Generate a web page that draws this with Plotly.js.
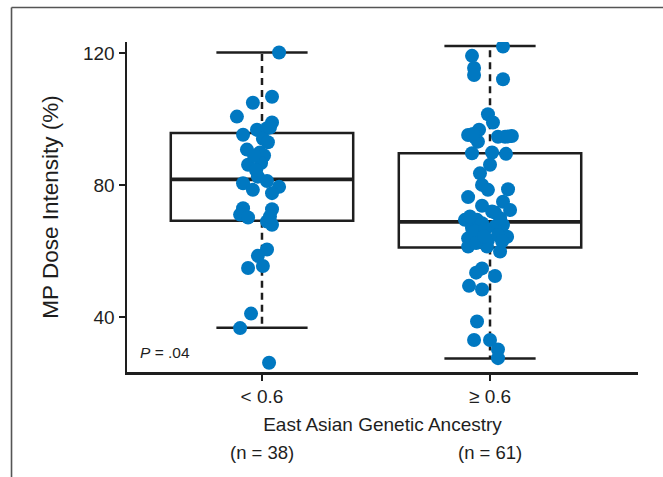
<!DOCTYPE html>
<html>
<head>
<meta charset="utf-8">
<script src="https://cdn.plot.ly/plotly-3.0.1.min.js"></script>
<style>
  html, body { margin: 0; padding: 0; background: #fff; }
  #chart { width: 663px; height: 477px; }
</style>
</head>
<body>
<div id="chart"></div>
<script>
// ---- Data ----
const categories = ["< 0.6", "\u2265 0.6"];
const nLabels = ["(n = 38)", "(n = 61)"];
const pLabel = "<i>P</i> = .04";

// Box statistics per group
const q1Vals = [69.2, 61.1];
const medianVals = [81.8, 68.9];
const q3Vals = [95.8, 89.7];
const lowerWhisker = [36.8, 27.5];
const upperWhisker = [120.2, 122.2];

// Group "< 0.6" (n = 38): MP dose intensity and horizontal jitter (category units)
const lowVals = [120.2, 106.8, 105.0, 100.8, 99.0, 96.8, 97.3, 95.3, 94.1, 90.8,
                 89.9, 89.0, 86.2, 86.7, 82.6, 81.3, 80.6, 79.5, 78.6, 77.6,
                 73.0, 72.7, 71.1, 70.2, 69.0, 68.0, 60.5, 58.6, 55.5, 54.9,
                 41.1, 36.7, 26.2, 97.5, 93.0, 89.0, 84.5, 70.5];
const lowJitter = [0.075, 0.044, -0.040, -0.110, 0.044, -0.022, 0.022, -0.083, 0.004, -0.066,
                   -0.009, 0.009, -0.061, -0.004, -0.018, 0.022, -0.083, 0.075, -0.040, 0.044,
                   -0.083, 0.044, -0.096, -0.061, 0.022, 0.044, 0.022, -0.018, 0.004, -0.061,
                   -0.048, -0.096, 0.031, 0.035, 0.026, -0.035, -0.026, 0.035];

// Group ">= 0.6" (n = 61)
const highVals = [122.0, 119.2, 115.5, 113.4, 112.1, 101.5, 99.0, 96.8, 95.2, 94.5,
                  94.7, 94.9, 94.7, 93.2, 89.7, 89.9, 89.5, 86.2, 83.6, 80.1,
                  78.6, 78.8, 76.4, 73.8, 75.0, 72.5, 71.7, 69.5, 69.5, 68.0,
                  67.0, 67.5, 65.5, 64.4, 63.9, 63.4, 64.9, 61.4, 61.4, 59.9,
                  54.8, 53.5, 52.5, 49.5, 48.4, 38.7, 33.1, 33.1, 30.2, 27.6,
                  95.5, 94.8, 70.5, 68.5, 66.0, 63.0, 62.5, 70.0, 66.5, 72.0, 64.5];
const highJitter = [0.057, -0.079, -0.070, -0.070, 0.057, -0.009, 0.013, -0.048, -0.096, -0.066,
                    0.035, 0.096, 0.066, -0.053, -0.079, 0.009, 0.070, 0.000, -0.044, -0.035,
                    -0.009, 0.079, -0.096, -0.035, 0.057, 0.088, 0.022, -0.110, -0.057, 0.057,
                    -0.079, 0.022, -0.044, 0.075, -0.096, -0.009, 0.035, -0.096, -0.013, 0.044,
                    -0.035, -0.061, 0.022, -0.092, -0.035, -0.057, -0.070, 0.000, 0.035, 0.035,
                    -0.075, 0.079, -0.088, -0.035, -0.066, 0.053, -0.061, 0.044, -0.022, 0.009, -0.026];

// ---- Styling ----
const INK = "#1e1e1e";
const DOT = "#0078c1";
const FONT = "Liberation Sans, Arial, Helvetica, sans-serif";
const boxWidth = 0.8;
const capHalf = 0.2;

const idx = categories.map((_, i) => i);

const traces = [];

// Box bodies (no whiskers: fences equal quartiles)
traces.push({
  type: "box",
  x: idx,
  q1: q1Vals, median: medianVals, q3: q3Vals,
  lowerfence: q1Vals, upperfence: q3Vals,
  width: boxWidth,
  whiskerwidth: 0,
  boxpoints: false,
  fillcolor: "rgba(0,0,0,0)",
  line: { color: INK, width: 2.5 },
  hoverinfo: "skip",
  showlegend: false
});

// Thicker median overlay
idx.forEach(i => {
  traces.push({
    type: "scatter", mode: "lines",
    x: [i - boxWidth / 2, i + boxWidth / 2],
    y: [medianVals[i], medianVals[i]],
    line: { color: INK, width: 3.8 },
    hoverinfo: "skip", showlegend: false
  });
});

// Dashed whiskers and caps
idx.forEach(i => {
  traces.push({
    type: "scatter", mode: "lines",
    x: [i, i, null, i, i],
    y: [q3Vals[i], upperWhisker[i], null, q1Vals[i], lowerWhisker[i]],
    line: { color: INK, width: 2.5, dash: "7px,5px" },
    hoverinfo: "skip", showlegend: false
  });
  traces.push({
    type: "scatter", mode: "lines",
    x: [i - capHalf, i + capHalf, null, i - capHalf, i + capHalf],
    y: [upperWhisker[i], upperWhisker[i], null, lowerWhisker[i], lowerWhisker[i]],
    line: { color: INK, width: 2.5 },
    hoverinfo: "skip", showlegend: false
  });
});

// Jittered points
traces.push({
  type: "scatter", mode: "markers",
  x: lowVals.map((v, k) => 0 + lowJitter[k]),
  y: lowVals,
  marker: { color: DOT, size: 14, line: { width: 0 } },
  showlegend: false
});
traces.push({
  type: "scatter", mode: "markers",
  x: highVals.map((v, k) => 1 + highJitter[k]),
  y: highVals,
  marker: { color: DOT, size: 14, line: { width: 0 } },
  showlegend: false
});

const layout = {
  width: 663, height: 477,
  margin: { l: 127, r: 25, t: 42, b: 105 },
  paper_bgcolor: "#ffffff",
  plot_bgcolor: "#ffffff",
  font: { family: FONT, color: INK },
  showlegend: false,
  xaxis: {
    range: [-0.592, 1.649],
    tickmode: "array",
    tickvals: idx,
    ticktext: categories,
    showgrid: false, zeroline: false,
    showline: true, linecolor: INK, linewidth: 2.5,
    ticks: "outside", ticklen: 6, tickwidth: 1.5, tickcolor: INK,
    tickfont: { family: FONT, size: 19, color: INK },
    title: { text: "East Asian Genetic Ancestry", font: { family: FONT, size: 19, color: INK }, standoff: 12 }
  },
  yaxis: {
    range: [23.4, 123.4],
    tickmode: "array",
    tickvals: [40, 80, 120],
    showgrid: false, zeroline: false,
    showline: true, linecolor: INK, linewidth: 2.5,
    ticks: "outside", ticklen: 6, tickwidth: 1.5, tickcolor: INK,
    tickfont: { family: FONT, size: 19, color: INK },
    title: { text: "MP Dose Intensity (%)", font: { family: FONT, size: 22.5, color: INK }, standoff: 18 }
  },
  annotations: [
    ...idx.map(i => ({
      x: i, xref: "x", y: -0.245, yref: "paper",
      text: nLabels[i], showarrow: false,
      xanchor: "center", yanchor: "middle",
      font: { family: FONT, size: 18.5, color: INK }
    })),
    {
      x: 0.022, xref: "paper", y: 0.058, yref: "paper",
      text: pLabel, showarrow: false,
      xanchor: "left", yanchor: "middle",
      font: { family: FONT, size: 15.5, color: INK }
    }
  ],
  shapes: [
    { type: "line", xref: "paper", yref: "paper", x0: -0.226, x1: -0.226, y0: -0.35, y1: 1.1045,
      line: { color: "#555", width: 1.6 } },
    { type: "line", xref: "paper", yref: "paper", x0: -0.226, x1: 1.2, y0: 1.1045, y1: 1.1045,
      line: { color: "#555", width: 1.6 } }
  ]
};

Plotly.newPlot("chart", traces, layout, { displayModeBar: false, staticPlot: true });
</script>
</body>
</html>
